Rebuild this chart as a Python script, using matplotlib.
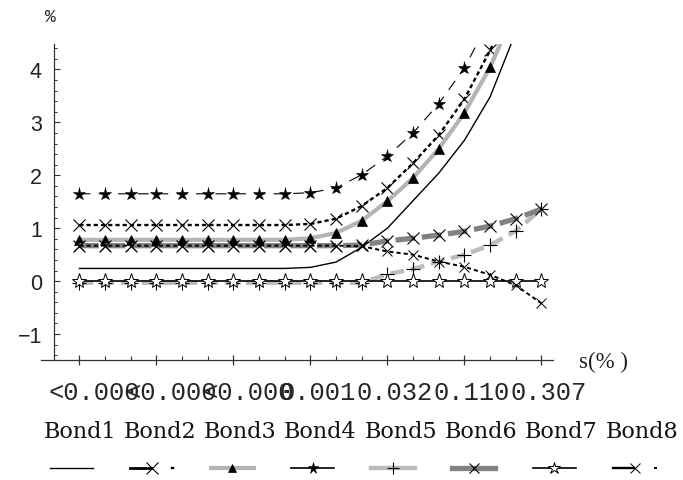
import matplotlib
matplotlib.use("Agg")
import matplotlib.pyplot as plt
from matplotlib.lines import Line2D
from matplotlib.transforms import ScaledTranslation
import numpy as np

plt.rcParams['lines.scale_dashes'] = False

# ---------------- data ----------------
x_idx = list(range(19))
xtick_pos = [0, 3, 6, 9, 12, 15, 18]
xtick_labels = ["<0.000", "<0.000", "<0.000", "0.001", "0.032", "0.110", "0.307"]
ytick_vals = [-1, 0, 1, 2, 3, 4]
bond_names = ["Bond1", "Bond2", "Bond3", "Bond4", "Bond5", "Bond6", "Bond7", "Bond8"]

bond1 = [0.24, 0.24, 0.24, 0.24, 0.24, 0.24, 0.24, 0.24, 0.24, 0.26, 0.36, 0.64, 1.00, 1.52, 2.04, 2.66, 3.48, 4.70, 6.20]
bond2 = [1.06, 1.06, 1.06, 1.06, 1.06, 1.06, 1.06, 1.06, 1.06, 1.08, 1.18, 1.42, 1.76, 2.23, 2.76, 3.44, 4.36, 5.40, 6.80]
bond3 = [0.78, 0.78, 0.78, 0.78, 0.78, 0.78, 0.78, 0.78, 0.78, 0.81, 0.91, 1.14, 1.51, 1.95, 2.50, 3.18, 4.04, 5.15, 6.50]
bond4 = [1.65, 1.65, 1.65, 1.65, 1.65, 1.65, 1.65, 1.65, 1.65, 1.67, 1.76, 2.01, 2.36, 2.80, 3.35, 4.03, 4.95, 6.00, 7.40]
bond5 = [-0.03, -0.03, -0.03, -0.03, -0.03, -0.03, -0.03, -0.03, -0.03, -0.03, -0.03, -0.03, 0.13, 0.23, 0.37, 0.50, 0.68, 0.95, 1.36]
bond6 = [0.67, 0.67, 0.67, 0.67, 0.67, 0.67, 0.67, 0.67, 0.67, 0.67, 0.67, 0.68, 0.76, 0.81, 0.87, 0.94, 1.04, 1.18, 1.36]
bond7 = [0.0] * 19
bond8 = [0.67, 0.67, 0.67, 0.67, 0.67, 0.67, 0.67, 0.67, 0.67, 0.67, 0.67, 0.66, 0.56, 0.50, 0.37, 0.27, 0.12, -0.08, -0.42]

series = [bond1, bond2, bond3, bond4, bond5, bond6, bond7, bond8]

styles = [
    dict(color='black', lw=1.0, ls='-', marker=None),
    dict(color='black', lw=1.7, dashes=(3.0, 2.2), marker='x', ms=8, mec='black', mew=0.8),
    dict(color='#b4b4b4', lw=3.0, ls='-', marker='^', ms=7, mfc='black', mec='black', mew=0.5),
    dict(color='black', lw=0.8, dashes=(8.0, 6.0), marker='*', ms=9.5, mfc='black', mec='black', mew=0.4),
    dict(color='#bcbcbc', lw=3.2, dashes=(10.0, 5.0), marker='+', ms=10, mec='black', mew=0.8),
    dict(color='#828282', lw=3.8, dashes=(14.0, 5.0), marker='x', ms=8, mec='black', mew=0.8),
    dict(color='black', lw=1.2, ls='-', marker='*', ms=11, mfc='white', mec='black', mew=0.7),
    dict(color='black', lw=1.4, dashes=(3.0, 2.2), marker='x', ms=7, mec='black', mew=0.7),
]

W, H = 683, 481
fig = plt.figure(figsize=(W / 100, H / 100), dpi=100)
ax_l, ax_r, ax_t, ax_b = 40.8, 553.0, 45.0, 361.0
ax = fig.add_axes([ax_l / W, 1 - ax_b / H, (ax_r - ax_l) / W, (ax_b - ax_t) / H])

for ys, st in zip(series, styles):
    st = dict(st)
    kw = dict(color=st.pop('color'), lw=st.pop('lw'))
    if 'dashes' in st:
        kw['dashes'] = st.pop('dashes')
    else:
        kw['ls'] = st.pop('ls')
    m = st.pop('marker')
    line, = ax.plot(x_idx, ys, **kw, marker=m if m else None, **st)
    line.set_dash_capstyle('butt')

ax.set_xlim(-1.5, 18.45)
ax.set_ylim(-1.49, 4.48)

for s in ['top', 'right']:
    ax.spines[s].set_visible(False)
ax.spines['left'].set_position(('data', -1))
for s in ['left', 'bottom']:
    ax.spines[s].set_color('#333333')
    ax.spines[s].set_linewidth(0.9)

ax.set_xticks(xtick_pos)
ax.set_xticks([i for i in x_idx if i not in xtick_pos], minor=True)
ax.set_xticklabels([])
ax.tick_params(axis='x', which='major', direction='inout', length=7.5, width=0.9, color='#333333')
ax.tick_params(axis='x', which='minor', direction='in', length=2.8, width=0.8, color='#333333')

ax.set_yticks(ytick_vals)
ax.set_yticks(np.arange(-1.4, 4.45, 0.2), minor=True)
ax.set_yticklabels(["\u22121" if v < 0 else str(v) for v in ytick_vals],
                   fontfamily='Liberation Sans', fontsize=15.5, color='#222222')
ax.tick_params(axis='y', which='major', direction='in', length=4.5, width=0.8, color='#333333', pad=8.5)
ax.tick_params(axis='y', which='minor', direction='in', length=2.5, width=0.7, color='#333333')

# x tick labels (left aligned and overlapping, as in the reference)
off = ax.get_xaxis_transform() + ScaledTranslation(-0.31, -0.205, fig.dpi_scale_trans)
for p, lab in zip(xtick_pos, xtick_labels):
    ax.text(p, 0, lab, transform=off, ha='left', va='top',
            fontfamily='Liberation Mono', fontsize=18.4, color='#262626', clip_on=False)

# axis titles
fig.text(50 / W, 1 - 17 / H, "%", ha='center', va='center',
         fontfamily='Liberation Mono', fontsize=13, color='#222222')
fig.text(579 / W, 1 - 362 / H, "s(% )", ha='left', va='center',
         fontfamily='Liberation Serif', fontsize=16.5, color='#222222')

# legend: labels row
for i, name in enumerate(bond_names):
    cx = 79.7 + 80.3 * i
    fig.text(cx / W, 1 - 437.8 / H, name, ha='center', va='baseline',
             fontfamily='DejaVu Serif', fontsize=16, color='#111111')

# legend: samples row
ly = 1 - 469.3 / H
for i, st in enumerate(styles):
    cx = 71 + 80.5 * i
    color, lw = st['color'], st['lw']
    if i in (1, 7):
        fig.add_artist(Line2D([(cx - 21.5) / W, (cx - 1) / W], [ly, ly], color=color, lw=lw + 0.3,
                              transform=fig.transFigure))
        fig.add_artist(Line2D([cx / W], [ly], marker=st['marker'], ms=st['ms'], mec='black',
                              mew=st['mew'], ls='none', transform=fig.transFigure))
        fig.add_artist(Line2D([(cx + 20) / W, (cx + 21.5) / W], [ly, ly], color=color, lw=lw,
                              transform=fig.transFigure))
    else:
        fig.add_artist(Line2D([(cx - 21.5) / W, (cx + 21.5) / W], [ly, ly], color=color,
                              lw=lw + (0.4 if i == 3 else 0), transform=fig.transFigure))
        if st['marker']:
            fig.add_artist(Line2D([cx / W], [ly], marker=st['marker'], ms=st['ms'] * 0.85,
                                  mfc=st.get('mfc', 'none'), mec=st.get('mec', 'black'),
                                  mew=st.get('mew', 0.8), ls='none', transform=fig.transFigure))

fig.savefig("out.png", dpi=100)
